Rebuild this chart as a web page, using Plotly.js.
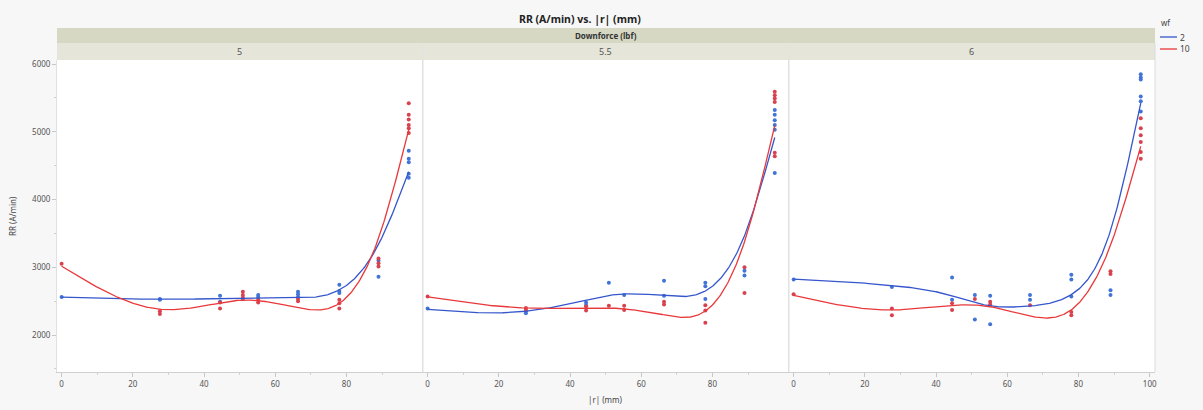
<!DOCTYPE html>
<html>
<head>
<meta charset="utf-8">
<script src="https://cdn.plot.ly/plotly-3.0.1.min.js"></script>
<style>html,body{margin:0;padding:0;background:#f7f7f7;}#chart{width:1203px;height:410px;}</style>
</head>
<body>
<div id="chart"></div>
<script>
// ---- data ----
const radii = [0, 27.6, 44.5, 50.9, 55.2, 66.4, 78, 89, 97.5];
const downforce = ["5", "5.5", "6"];
const wfLevels = ["2", "10"];
const xTicks = [0, 20, 40, 60, 80, 100];
const yTicks = [2000, 3000, 4000, 5000, 6000];

// RR (A/min) values per radius, for each downforce and wf
const df5_wf2 = [[2560],[2530,2520],[2580,2490],[2530],[2590,2560],[2640,2600,2560],[2740,2650,2620],[3100,2860],[4720,4600,4550,4380,4320]];
const df5_wf10 = [[3050],[2350,2310],[2480,2390],[2640,2590,2550],[2520,2480],[2530,2500],[2520,2470,2390],[3130,3060,3010],[5420,5250,5180,5100,5050,4980]];
const df55_wf2 = [[2390],[2350,2320],[2480,2440],[2770],[2590],[2800,2580],[2770,2720,2530],[2950,2880],[5320,5250,5170,5100,5030,4390]];
const df55_wf10 = [[2570],[2400,2370],[2420,2360],[2430],[2430,2370],[2490,2450],[2440,2360,2180],[3000,2620],[5590,5540,5490,5440,4690,4640]];
const df6_wf2 = [[2820],[2710],[2850,2520],[2590,2230],[2580,2160],[2590,2520],[2890,2820,2570],[2660,2590],[5850,5800,5770,5520,5450,5300]];
const df6_wf10 = [[2600],[2390,2290],[2470,2370],[2530],[2490,2450],[2440],[2340,2290],[2940,2900],[5200,5050,4950,4850,4700,4600]];

const panels = [[df5_wf2, df5_wf10],[df55_wf2, df55_wf10],[df6_wf2, df6_wf10]];

// ---- smoothing spline (Reinsch) fitted to the data ----
function solve(A, b){
  const n=b.length; A=A.map(r=>r.slice()); b=b.slice();
  for(let i=0;i<n;i++){
    let p=i; for(let k=i+1;k<n;k++) if(Math.abs(A[k][i])>Math.abs(A[p][i])) p=k;
    [A[i],A[p]]=[A[p],A[i]]; [b[i],b[p]]=[b[p],b[i]];
    for(let k=i+1;k<n;k++){const f=A[k][i]/A[i][i]; for(let j=i;j<n;j++) A[k][j]-=f*A[i][j]; b[k]-=f*b[i];}
  }
  const x=new Array(n).fill(0);
  for(let i=n-1;i>=0;i--){let s=b[i]; for(let j=i+1;j<n;j++) s-=A[i][j]*x[j]; x[i]=s/A[i][i];}
  return x;
}
function smoothCurve(xs, groups, lambda){
  const n=xs.length, m=n-2;
  const w=groups.map(g=>g.length);
  const y=groups.map(g=>g.reduce((a,b)=>a+b,0)/g.length);
  const h=[]; for(let i=0;i<n-1;i++) h.push(xs[i+1]-xs[i]);
  const Q=Array.from({length:n},()=>new Array(m).fill(0));
  const R=Array.from({length:m},()=>new Array(m).fill(0));
  for(let j=0;j<m;j++){
    Q[j][j]=1/h[j]; Q[j+1][j]=-1/h[j]-1/h[j+1]; Q[j+2][j]=1/h[j+1];
    R[j][j]=(h[j]+h[j+1])/3;
    if(j<m-1){R[j][j+1]=h[j+1]/6; R[j+1][j]=h[j+1]/6;}
  }
  const A=R.map((r,i)=>r.map((v,j)=>{let s=0; for(let k=0;k<n;k++) s+=Q[k][i]*Q[k][j]/w[k]; return v+lambda*s;}));
  const bvec=[]; for(let j=0;j<m;j++){let s=0; for(let k=0;k<n;k++) s+=Q[k][j]*y[k]; bvec.push(s);}
  const gam=solve(A,bvec);
  const g=y.map((yk,k)=>{let s=0; for(let j=0;j<m;j++) s+=Q[k][j]*gam[j]; return yk-lambda*s/w[k];});
  const G=[0,...gam,0];
  const cx=[], cy=[];
  for(let i=0;i<n-1;i++){
    const steps=Math.max(4,Math.ceil(h[i]/0.25));
    for(let s=0;s<(i===n-2?steps+1:steps);s++){
      const x=xs[i]+h[i]*s/steps;
      const a=x-xs[i], bb=xs[i+1]-x;
      const v=(a*g[i+1]+bb*g[i])/h[i]-a*bb/6*((1+a/h[i])*G[i+1]+(1+bb/h[i])*G[i]);
      cx.push(x); cy.push(v);
    }
  }
  return {x:cx,y:cy};
}

const markerColors=["#4174d6","#d8424e"];
const lineColors=["#3556cc","#e8383a"];
const LAMBDA=500;
const traces=[];
panels.forEach((pair,p)=>{
  const xa='x'+(p?p+1:''), ya='y'+(p?p+1:'');
  pair.forEach((groups,s)=>{
    const px=[],py=[];
    groups.forEach((vals,i)=>vals.forEach(v=>{px.push(radii[i]);py.push(v);}));
    traces.push({type:'scatter',mode:'markers',x:px,y:py,xaxis:xa,yaxis:ya,showlegend:false,
      marker:{size:4,color:markerColors[s]},hoverinfo:'x+y',name:wfLevels[s]});
  });
  pair.forEach((groups,s)=>{
    const c=smoothCurve(radii,groups,LAMBDA);
    traces.push({type:'scatter',mode:'lines',x:c.x,y:c.y,xaxis:xa,yaxis:ya,showlegend:false,
      line:{color:lineColors[s],width:1.3},hoverinfo:'skip',name:wfLevels[s]});
  });
});

// ---- layout ----
const W=1203,H=410,L=57,Rm=48,T=60,B=38;
const pw=W-L-Rm, ph=H-T-B;
const PX=x=>(x-L)/pw, PY=y=>(H-B-y)/ph;
const font='"Noto Sans", "Open Sans", Arial, sans-serif';
const tickFont={family:font,size:8,color:'#555'};
function xax(dom,vals){return {domain:dom,range:[-1.3,101.5],tickvals:vals,ticktext:vals.map(String),ticks:'outside',ticklen:4,tickcolor:'#c8c8c8',
  showline:true,linecolor:'#d0d0d0',linewidth:1,showgrid:false,zeroline:false,tickfont:tickFont,
  minor:{tickvals:[10,30,50,70,90],ticks:'outside',ticklen:2,tickcolor:'#d0d0d0'}};}
function yax(anchor,show){return {anchor:anchor,range:[1454,6059],tickvals:yTicks,ticktext:yTicks.map(String),ticks:show?'outside':'',ticklen:4,tickcolor:'#c8c8c8',
  showticklabels:show,showline:true,linecolor:'#e0e0e0',linewidth:1,showgrid:false,zeroline:false,tickfont:tickFont,
  minor:show?{tickvals:[1500,2500,3500,4500,5500],ticks:'outside',ticklen:2,tickcolor:'#d0d0d0'}:{}};}

const shapes=[
  {type:'rect',xref:'paper',yref:'paper',x0:0,x1:1,y0:PY(43),y1:PY(28),fillcolor:'#d6d8c4',line:{width:0},layer:'below'},
  {type:'rect',xref:'paper',yref:'paper',x0:0,x1:1,y0:PY(60),y1:PY(43),fillcolor:'#e5e6d9',line:{width:0},layer:'below'},
  {type:'line',xref:'paper',yref:'paper',x0:1/3,x1:1/3,y0:0,y1:PY(43),line:{color:'#e2e2e2',width:1}},
  {type:'line',xref:'paper',yref:'paper',x0:2/3,x1:2/3,y0:0,y1:PY(43),line:{color:'#e2e2e2',width:1}},
  {type:'line',xref:'paper',yref:'paper',x0:1,x1:1,y0:0,y1:PY(43),line:{color:'#dcdcdc',width:1}},
  {type:'line',xref:'paper',yref:'paper',x0:PX(1160),x1:PX(1177),y0:PY(37),y1:PY(37),line:{color:lineColors[0],width:1.3}},
  {type:'line',xref:'paper',yref:'paper',x0:PX(1160),x1:PX(1177),y0:PY(49),y1:PY(49),line:{color:lineColors[1],width:1.3}}
];
const ann=(text,x,y,opts)=>Object.assign({text:text,xref:'paper',yref:'paper',x:PX(x),y:PY(y),xanchor:'center',yanchor:'middle',showarrow:false,
  font:{family:font,size:8,color:'#444'}},opts||{});
const annotations=[
  ann('<b>RR (A/min) vs. |r| (mm)</b>',580,19,{font:{family:font,size:10.5,color:'#222'}}),
  ann('<b>Downforce (lbf)</b>',606,35.5,{font:{family:font,size:8,color:'#333'}}),
  ann(downforce[0],239.5,51.5,{font:{family:font,size:9,color:'#555'}}),
  ann(downforce[1],605,51.5,{font:{family:font,size:9,color:'#555'}}),
  ann(downforce[2],971.5,51.5,{font:{family:font,size:9,color:'#555'}}),
  ann('|r| (mm)',605,399,{font:{family:font,size:8,color:'#444'}}),
  ann('RR (A/min)',12,216,{textangle:-90,font:{family:font,size:8,color:'#444'}}),
  ann('wf',1159,22,{xanchor:'left',font:{family:font,size:8,color:'#444'}}),
  ann(wfLevels[0],1178,37,{xanchor:'left',font:{family:font,size:8.5,color:'#444'}}),
  ann(wfLevels[1],1178,49,{xanchor:'left',font:{family:font,size:8.5,color:'#444'}})
];

const layout={
  width:W,height:H,margin:{l:L,r:Rm,t:T,b:B},
  paper_bgcolor:'#f7f7f7',plot_bgcolor:'#ffffff',showlegend:false,
  font:{family:font},
  xaxis:xax([0,1/3],xTicks.slice(0,5)),
  xaxis2:xax([1/3,2/3],xTicks.slice(0,5)),
  xaxis3:xax([2/3,1],xTicks),
  yaxis:yax('x',true),
  yaxis2:Object.assign(yax('x2',false),{matches:'y'}),
  yaxis3:Object.assign(yax('x3',false),{matches:'y'}),
  shapes:shapes,annotations:annotations
};
layout.xaxis.anchor='y'; layout.xaxis2.anchor='y2'; layout.xaxis3.anchor='y3';
Plotly.newPlot('chart',traces,layout,{displayModeBar:false,staticPlot:true});
</script>
</body>
</html>
